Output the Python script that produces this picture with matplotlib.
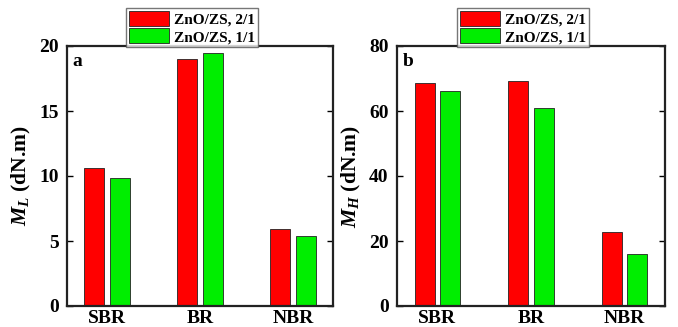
import numpy as np
import matplotlib
matplotlib.use("Agg")
import matplotlib.pyplot as plt

# dados
categorias = ["SBR", "BR", "NBR"]
series = ["ZnO/ZS, 2/1", "ZnO/ZS, 1/1"]
ml_21 = [10.6, 19.0, 5.95]
ml_11 = [9.85, 19.5, 5.4]
mh_21 = [68.7, 69.3, 22.7]
mh_11 = [66.3, 61.0, 16.0]

plt.rcParams["font.family"] = "Liberation Serif"
plt.rcParams["font.weight"] = "bold"
plt.rcParams["axes.labelweight"] = "bold"
plt.rcParams["mathtext.fontset"] = "custom"
plt.rcParams["mathtext.it"] = "Liberation Serif:italic:bold"
plt.rcParams["mathtext.rm"] = "Liberation Serif:bold"

cores = ["#ff0000", "#00ee00"]


def painel(ax, v1, v2, ymax, yticks, ylabel, letra):
    x = np.arange(1, len(categorias) + 1)
    largura = 0.215
    ax.bar(x - 0.135, v1, largura, color=cores[0], edgecolor="#222222", linewidth=0.6, label=series[0])
    ax.bar(x + 0.135, v2, largura, color=cores[1], edgecolor="#222222", linewidth=0.6, label=series[1])
    ax.set_xlim(0.57, 3.43)
    ax.set_ylim(0, ymax)
    ax.set_yticks(yticks)
    ax.set_xticks(x)
    ax.set_xticklabels(categorias)
    ax.tick_params(axis="both", direction="in", labelsize=14, right=True, top=False, length=4, width=1)
    ax.tick_params(axis="x", length=0, pad=3)
    ax.tick_params(axis="y", pad=6)
    for s in ax.spines.values():
        s.set_linewidth(1.6)
        s.set_color("#222222")
    ax.set_ylabel(ylabel, fontsize=15.5, labelpad=4)
    ax.text(0.02, 0.975, letra, transform=ax.transAxes, fontsize=14, fontweight="bold", va="top", ha="left")
    leg = ax.legend(loc="lower center", bbox_to_anchor=(0.47, 0.99), fontsize=11, frameon=True,
                    fancybox=False, edgecolor="#555555", handlelength=2.6, handleheight=1.1,
                    borderpad=0.2, labelspacing=0.1, handletextpad=0.3, borderaxespad=0.1)
    leg.get_frame().set_linewidth(1.0)


fig = plt.figure(figsize=(6.78, 3.27), dpi=100)
ax1 = fig.add_axes([67 / 678, 21 / 327, 266 / 678, 260 / 327])
ax2 = fig.add_axes([397 / 678, 21 / 327, 268 / 678, 260 / 327])

painel(ax1, ml_21, ml_11, 20, [0, 5, 10, 15, 20], r"$M_L$ (dN.m)", "a")
painel(ax2, mh_21, mh_11, 80, [0, 20, 40, 60, 80], r"$M_H$ (dN.m)", "b")

fig.savefig("out.png", dpi=100)
